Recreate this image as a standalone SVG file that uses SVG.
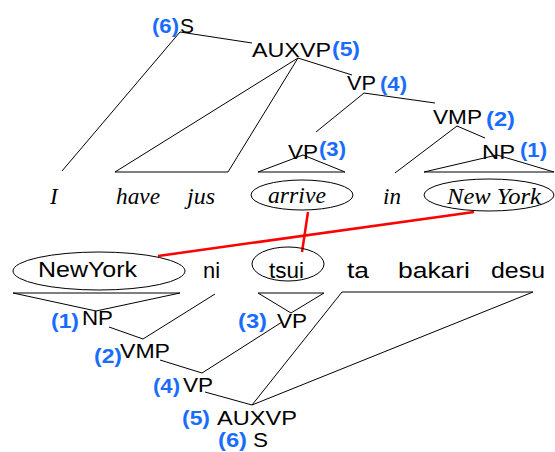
<svg xmlns="http://www.w3.org/2000/svg" width="555" height="452" viewBox="0 0 555 452">
<style>
.lbl{font-family:"Liberation Sans",Arial,sans-serif;font-size:21px;fill:#000}
.num{font-family:"Liberation Sans",Arial,sans-serif;font-size:21px;font-weight:bold;fill:#1a6cff}
.en{font-family:"Liberation Serif","Times New Roman",serif;font-size:23px;font-style:italic;fill:#000}
.jp{font-family:"Liberation Sans",Arial,sans-serif;font-size:22px;fill:#000}
.ln{stroke:#000;stroke-width:1;fill:none}
.ell{stroke:#000;stroke-width:1;fill:none}
.red{stroke:#ff0000;stroke-width:2.5;fill:none}
</style>
<rect width="555" height="452" fill="#fff"/>
<g id="connectors">
  <path class="ln" d="M180,32 L62,171"/>
  <path class="ln" d="M180,32 L252,43"/>
  <path class="ln" d="M298,58 L115,172 L228,172 L298,58"/>
  <path class="ln" d="M298,58 L352,75"/>
  <path class="ln" d="M364,93 L316,132"/>
  <path class="ln" d="M364,93 L435,103"/>
  <path class="ln" d="M457,126 L395,173"/>
  <path class="ln" d="M457,126 L485,138"/>
  <path class="ln" d="M303,155 L258,172 L345,172 Z"/>
  <path class="ln" d="M497,155 L424,172 L554,172 Z"/>
  <path class="ln" d="M13,293 L180,293 L96,311 Z"/>
  <path class="ln" d="M109,327 L143,339 L215,294"/>
  <path class="ln" d="M160,360 L202,373 L282,322"/>
  <path class="ln" d="M258,293 L324,293 L291,313 Z"/>
  <path class="ln" d="M205,392 L252,405"/>
  <path class="ln" d="M252,405 L342,292 L533,292 Z"/>
  <path class="red" d="M474,212 L158,256"/>
  <path class="red" d="M308,212 L302,252"/>
</g>
<g id="top-S"><text class="num" x="152" y="33" textLength="27" lengthAdjust="spacingAndGlyphs">(6)</text><text class="lbl" x="180" y="33">S</text></g>
<g id="top-AUXVP"><text class="lbl" x="252" y="57" textLength="79" lengthAdjust="spacingAndGlyphs">AUXVP</text><text class="num" x="332" y="56" textLength="28" lengthAdjust="spacingAndGlyphs">(5)</text></g>
<g id="top-VP4"><text class="lbl" x="347" y="90" textLength="29" lengthAdjust="spacingAndGlyphs">VP</text><text class="num" x="380" y="91" textLength="27" lengthAdjust="spacingAndGlyphs">(4)</text></g>
<g id="top-VMP"><text class="lbl" x="433" y="124" textLength="49" lengthAdjust="spacingAndGlyphs">VMP</text><text class="num" x="486" y="126" textLength="29" lengthAdjust="spacingAndGlyphs">(2)</text></g>
<g id="top-NP"><text class="lbl" x="482" y="159" textLength="33" lengthAdjust="spacingAndGlyphs">NP</text><text class="num" x="520" y="157" textLength="27" lengthAdjust="spacingAndGlyphs">(1)</text></g>
<g id="top-VP3"><text class="lbl" x="288" y="159" textLength="30" lengthAdjust="spacingAndGlyphs">VP</text><text class="num" x="319" y="156" textLength="27" lengthAdjust="spacingAndGlyphs">(3)</text></g>
<g id="w-I"><text class="en" x="50" y="204">I</text></g>
<g id="w-have"><text class="en" x="116" y="204" textLength="44" lengthAdjust="spacingAndGlyphs">have</text></g>
<g id="w-jus"><text class="en" x="187" y="204" textLength="28" lengthAdjust="spacingAndGlyphs">jus</text></g>
<g id="w-arrive"><ellipse class="ell" cx="302" cy="195" rx="51" ry="15"/><text class="en" x="268" y="203" textLength="58" lengthAdjust="spacingAndGlyphs">arrive</text></g>
<g id="w-in"><text class="en" x="383" y="204">in</text></g>
<g id="w-newyork"><ellipse class="ell" cx="489" cy="195" rx="65" ry="16"/><text class="en" x="447" y="204" textLength="94" lengthAdjust="spacingAndGlyphs">New York</text></g>
<g id="j-NewYork"><ellipse class="ell" cx="99" cy="271" rx="86" ry="19"/><text class="jp" x="38" y="277" textLength="99" lengthAdjust="spacingAndGlyphs">NewYork</text></g>
<g id="j-ni"><text class="jp" x="203" y="278" textLength="17" lengthAdjust="spacingAndGlyphs">ni</text></g>
<g id="j-tsui"><ellipse class="ell" cx="288" cy="264" rx="36" ry="17"/><text class="jp" x="269" y="278" textLength="35" lengthAdjust="spacingAndGlyphs">tsui</text></g>
<g id="j-ta"><text class="jp" x="347" y="278" textLength="22" lengthAdjust="spacingAndGlyphs">ta</text></g>
<g id="j-bakari"><text class="jp" x="398" y="278" textLength="72" lengthAdjust="spacingAndGlyphs">bakari</text></g>
<g id="j-desu"><text class="jp" x="491" y="278" textLength="54" lengthAdjust="spacingAndGlyphs">desu</text></g>
<g id="bot-NP"><text class="num" x="51" y="328" textLength="28" lengthAdjust="spacingAndGlyphs">(1)</text><text class="lbl" x="82" y="325" textLength="31" lengthAdjust="spacingAndGlyphs">NP</text></g>
<g id="bot-VMP"><text class="num" x="94" y="363" textLength="28" lengthAdjust="spacingAndGlyphs">(2)</text><text class="lbl" x="120" y="358" textLength="50" lengthAdjust="spacingAndGlyphs">VMP</text></g>
<g id="bot-VP3"><text class="num" x="238" y="328" textLength="29" lengthAdjust="spacingAndGlyphs">(3)</text><text class="lbl" x="277" y="328" textLength="30" lengthAdjust="spacingAndGlyphs">VP</text></g>
<g id="bot-VP4"><text class="num" x="153" y="393" textLength="27" lengthAdjust="spacingAndGlyphs">(4)</text><text class="lbl" x="183" y="392" textLength="30" lengthAdjust="spacingAndGlyphs">VP</text></g>
<g id="bot-AUXVP"><text class="num" x="182" y="425" textLength="28" lengthAdjust="spacingAndGlyphs">(5)</text><text class="lbl" x="217" y="425" textLength="80" lengthAdjust="spacingAndGlyphs">AUXVP</text></g>
<g id="bot-S"><text class="num" x="218" y="447" textLength="29" lengthAdjust="spacingAndGlyphs">(6)</text><text class="lbl" x="253" y="447" textLength="15" lengthAdjust="spacingAndGlyphs">S</text></g>
</svg>
